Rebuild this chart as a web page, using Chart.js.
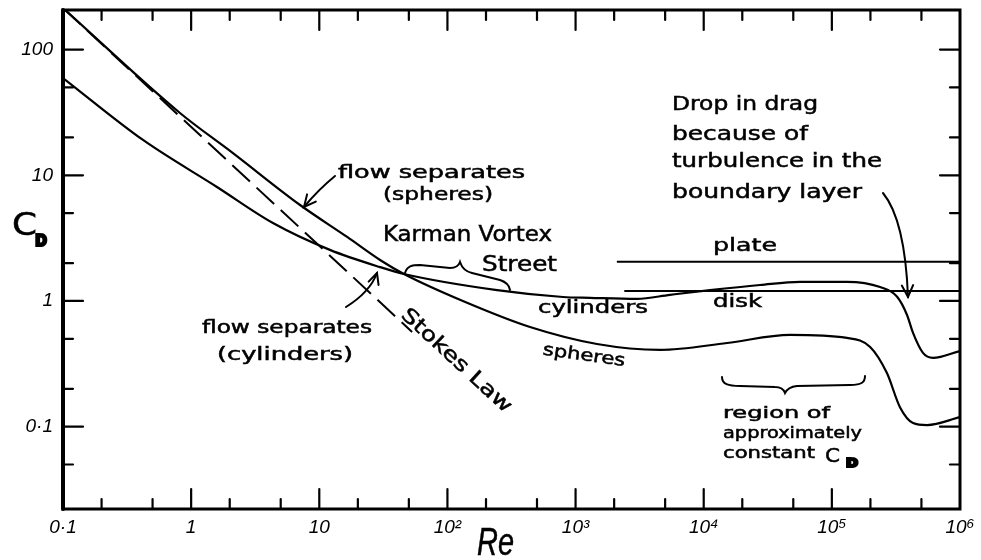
<!DOCTYPE html>
<html><head><meta charset="utf-8">
<script src="https://cdn.jsdelivr.net/npm/chart.js@4.4.1/dist/chart.umd.min.js"></script>
<style>html,body{margin:0;padding:0;background:#fff}#wrap{width:981px;height:560px;position:relative}</style>
</head><body><div id="wrap"><canvas id="c" width="981" height="560"></canvas></div>
<script>
// ---- data ----
const reSpheres = [0.1, 0.818, 2.12, 7.08, 16.5, 29.8, 45.8, 132, 441, 1469, 4560, 15200, 47100, 131000, 199000, 269000, 340000, 430000, 553000, 1000000];
const cdSpheres = [214, 31.3, 15.0, 5.8, 3.23, 2.12, 1.64, 1.0, 0.621, 0.455, 0.408, 0.463, 0.537, 0.508, 0.431, 0.267, 0.143, 0.107, 0.103, 0.119];
const reCylinders = [0.1, 0.421, 1.59, 4.35, 12.1, 29.8, 45.8, 244, 798, 1297, 3015, 5460, 11200, 27500, 56400, 131000, 238000, 323000, 386000, 430000, 514000, 616000, 1000000];
const cdCylinders = [59.4, 19.1, 8.07, 4.17, 2.55, 1.86, 1.64, 1.22, 1.076, 1.06, 1.04, 1.12, 1.22, 1.34, 1.42, 1.42, 1.29, 1.08, 0.774, 0.557, 0.386, 0.352, 0.400];
const reStokes = [0.1, 53];
const cdStokes = [214, 0.567];
const rePlate = [2100, 1000000];
const cdPlate = [2.05, 2.05];
const reDisk = [2400, 1000000];
const cdDisk = [1.2, 1.2];
const xTickValues = [0.1, 1, 10, 100, 1000, 10000, 100000, 1000000];
const xTickLabels = ['0·1', '1', '10', '10²', '10³', '10⁴', '10⁵', '10⁶'];
const yTickValues = [0.1, 1, 10, 100];
const yTickLabels = ['0·1', '1', '10', '100'];
const xMinorTicks = [0.2, 0.5, 2, 5, 20, 50, 200, 500, 2000, 5000, 20000, 50000, 200000, 500000];
const yMinorTicks = [0.05, 0.2, 0.5, 2, 5, 20, 50];
const xRange = [0.1, 1000000];
const yRange = [0.02213, 206.5];

const pts = (xs, ys) => xs.map((v, i) => ({x: v, y: ys[i]}));

function txt(ctx, s, x, y, w, size, o = {}) {
  ctx.save();
  ctx.font = `${o.style || ''} ${o.weight || ''} ${size}px ${o.family || '"DejaVu Sans"'}`;
  ctx.textAlign = 'left';
  ctx.textBaseline = o.rot !== undefined ? 'middle' : 'alphabetic';
  ctx.fillStyle = '#000';
  ctx.strokeStyle = '#000';
  const m = ctx.measureText(s).width;
  ctx.translate(x, y);
  if (o.rot !== undefined) ctx.rotate(o.rot);
  ctx.scale(w / m, 1);
  const tx = o.rot !== undefined ? -m / 2 : 0;
  ctx.fillText(s, tx, 0);
  ctx.lineWidth = o.sw === undefined ? 0.5 : o.sw;
  if (ctx.lineWidth > 0) ctx.strokeText(s, tx, 0);
  ctx.restore();
}
function head(ctx, tx, ty, fx, fy, len = 12, ang = 0.45) {
  const a = Math.atan2(ty - fy, tx - fx);
  ctx.beginPath();
  ctx.moveTo(tx - len * Math.cos(a - ang), ty - len * Math.sin(a - ang));
  ctx.lineTo(tx, ty);
  ctx.lineTo(tx - len * Math.cos(a + ang), ty - len * Math.sin(a + ang));
  ctx.stroke();
}

const sketch = {
  id: 'sketch',
  afterDraw(chart) {
    const {ctx, chartArea: a, scales: {x, y}} = chart;
    ctx.save();
    ctx.strokeStyle = '#000';
    ctx.lineCap = 'round';
    // frame
    ctx.lineWidth = 3;
    ctx.strokeRect(a.left, a.top, a.right - a.left, a.bottom - a.top);
    ctx.lineWidth = 4;
    ctx.beginPath(); ctx.moveTo(a.left, a.top); ctx.lineTo(a.left, a.bottom); ctx.stroke();
    // ticks
    ctx.lineWidth = 2.2;
    const seg = (x1, y1, x2, y2) => { ctx.beginPath(); ctx.moveTo(x1, y1); ctx.lineTo(x2, y2); ctx.stroke(); };
    const xt = (vals, len) => vals.forEach(v => {
      const p = x.getPixelForValue(v);
      if (p <= a.left + 1 || p >= a.right - 1) return;
      seg(p, a.bottom, p, a.bottom - len); seg(p, a.top, p, a.top + len);
    });
    const yt = (vals, len) => vals.forEach(v => {
      const p = y.getPixelForValue(v);
      if (p <= a.top + 1 || p >= a.bottom - 1) return;
      seg(a.left, p, a.left + len, p); seg(a.right, p, a.right - len, p);
    });
    xt(xTickValues, 20); xt(xMinorTicks, 10);
    yt(yTickValues, 20); yt(yMinorTicks, 10);

    // axis titles
    txt(ctx, 'C', 12, 235, 25, 32);
    txt(ctx, 'D', 35, 246, 12, 15, {weight: 'bold', sw: 0});
    txt(ctx, 'Re', 477, 555, 37, 38, {style: 'italic', family: '"Liberation Sans"'});

    // annotations
    const notes = [
      ['flow separates', 338, 178, 187, 17],
      ['(spheres)', 383, 200, 110, 17],
      ['Karman Vortex', 383, 241, 169, 21],
      ['Street', 482, 271, 75, 21],
      ['flow separates', 202, 333, 170, 17],
      ['(cylinders)', 217, 360, 136, 17],
      ['cylinders', 538, 313, 110, 17],
      ['plate', 713, 251, 64, 18],
      ['disk', 713, 307, 49, 17],
      ['Drop in drag', 672, 110, 146, 19],
      ['because of', 672, 140, 136, 19],
      ['turbulence in the', 672, 167, 210, 19],
      ['boundary layer', 672, 198, 190, 19],
      ['region of', 723, 418, 107, 15],
      ['approximately', 723, 438, 139, 15],
      ['constant', 723, 458, 92, 15]
    ];
    notes.forEach(n => txt(ctx, n[0], n[1], n[2], n[3], n[4]));
    txt(ctx, 'C', 825, 462, 15, 19);
    txt(ctx, 'D', 846, 467, 12, 12, {weight: 'bold', sw: 0});
    txt(ctx, 'Stokes Law', 456, 361, 143, 20, {rot: 42.7 * Math.PI / 180});
    txt(ctx, 'spheres', 584, 356, 83, 17, {rot: 8 * Math.PI / 180});

    // arrows
    ctx.lineWidth = 2;
    ctx.beginPath(); ctx.moveTo(335, 176); ctx.quadraticCurveTo(318, 190, 304, 207); ctx.stroke();
    head(ctx, 304, 207, 318, 190, 13);
    ctx.beginPath(); ctx.moveTo(346, 307); ctx.quadraticCurveTo(370, 292, 377, 273); ctx.stroke();
    head(ctx, 377, 273, 372, 288, 12);
    ctx.beginPath(); ctx.moveTo(883, 193); ctx.quadraticCurveTo(905, 220, 908, 297); ctx.stroke();
    head(ctx, 908, 297, 907, 275, 13);

    // braces
    ctx.beginPath();
    ctx.moveTo(405, 273);
    ctx.bezierCurveTo(407, 266, 412, 265, 420, 265);
    ctx.lineTo(450, 268);
    ctx.quadraticCurveTo(458, 268, 460, 262);
    ctx.quadraticCurveTo(463, 271, 472, 273);
    ctx.lineTo(500, 280);
    ctx.quadraticCurveTo(509, 283, 510, 290);
    ctx.stroke();
    ctx.beginPath();
    ctx.moveTo(722, 377);
    ctx.bezierCurveTo(722, 384, 728, 386, 740, 386);
    ctx.lineTo(775, 387);
    ctx.quadraticCurveTo(783, 387, 785, 393);
    ctx.quadraticCurveTo(788, 387, 797, 386);
    ctx.lineTo(850, 385);
    ctx.bezierCurveTo(862, 385, 865, 382, 865, 376);
    ctx.stroke();
    ctx.restore();
  }
};

const lineDs = (data, extra = {}) => Object.assign({
  data, showLine: true, borderColor: '#000', borderWidth: 2.2, pointRadius: 0, fill: false
}, extra);

new Chart(document.getElementById('c'), {
  type: 'scatter',
  data: {
    datasets: [
      lineDs(pts(reSpheres, cdSpheres), {cubicInterpolationMode: 'monotone', label: 'spheres'}),
      lineDs(pts(reCylinders, cdCylinders), {cubicInterpolationMode: 'monotone', label: 'cylinders'}),
      lineDs(pts(reStokes, cdStokes), {borderDash: [24, 9], borderWidth: 2, label: 'Stokes Law'}),
      lineDs(pts(rePlate, cdPlate), {borderWidth: 2, label: 'plate'}),
      lineDs(pts(reDisk, cdDisk), {borderWidth: 2, label: 'disk'})
    ]
  },
  options: {
    responsive: false, animation: false, events: [],
    layout: {padding: {top: 10, right: 21, left: 0, bottom: 0}},
    plugins: {legend: {display: false}, tooltip: {enabled: false}},
    scales: {
      x: {
        type: 'logarithmic', min: xRange[0], max: xRange[1],
        afterFit(s) { s.height = 51; s.paddingLeft = 0; s.paddingRight = 0; s.paddingTop = 0; s.paddingBottom = 0; },
        afterBuildTicks(s) { s.ticks = xTickValues.map(v => ({value: v, major: true})); },
        ticks: {
          autoSkip: false, maxRotation: 0, minRotation: 0, padding: 7, color: '#000',
          font: {family: '"Liberation Sans"', style: 'italic', size: 19},
          callback: (v, i) => xTickLabels[i]
        },
        grid: {display: false, drawTicks: false}, border: {display: false}
      },
      y: {
        type: 'logarithmic', min: yRange[0], max: yRange[1],
        afterFit(s) { s.width = 63; s.paddingTop = 0; s.paddingBottom = 0; s.paddingLeft = 0; s.paddingRight = 0; },
        afterBuildTicks(s) { s.ticks = yTickValues.map(v => ({value: v, major: true})); },
        ticks: {
          autoSkip: false, padding: 10, color: '#000',
          font: {family: '"Liberation Sans"', style: 'italic', size: 19},
          callback: (v, i) => yTickLabels[i]
        },
        grid: {display: false, drawTicks: false}, border: {display: false}
      }
    }
  },
  plugins: [sketch]
});
</script>
</body></html>
